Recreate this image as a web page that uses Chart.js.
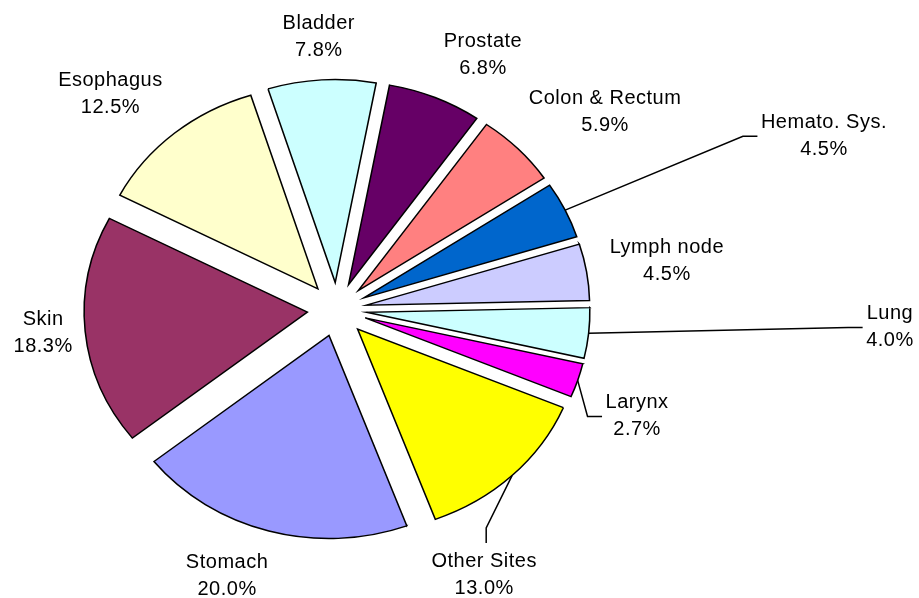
<!DOCTYPE html>
<html>
<head>
<meta charset="utf-8">
<script src="https://cdn.jsdelivr.net/npm/chart.js@4/dist/chart.umd.min.js"></script>
<style>
html, body { margin:0; padding:0; background:#fff; }
</style>
</head>
<body>
<canvas id="myChart" width="919" height="598"></canvas>
<script>
const sites = ['Bladder','Prostate','Colon & Rectum','Hemato. Sys.','Lymph node','Lung','Larynx','Other Sites','Stomach','Skin','Esophagus'];
const shares = [7.8,6.8,5.9,4.5,4.5,4.0,2.7,13.0,20.0,18.3,12.5];
const sliceColors = ['#CCFFFF','#660066','#FF8080','#0066CC','#CCCCFF','#CCFFFF','#FF00FF','#FFFF00','#9999FF','#993366','#FFFFCC'];

// where each label sits: [turn from slice mid angle (deg), gap past the rim (px)]
const labelPlace = [[0,44],[5.1,58],[5.5,85],[4.3,246],[0,74],[-4.25,273],[3.5,62.5],[18.6,67.6],[5.6,53],[0.9,38],[-3.9,69]];
// leader lines: 'left' = line comes in from the left, 'top' = from above
const leaders = {3:'left',5:'left',6:'left',7:'top'};

const explode = 27;
const pieRadius = 203;
const stretchX = 1.1;   // the original pie is a bit wider than tall

function centre(chart){
    const a = chart.chartArea;
    return [(a.left+a.right)/2, (a.top+a.bottom)/2];
}

// pull every slice out from the centre along its mid angle
const explodePlugin = {
    id:'explode',
    afterDatasetsUpdate(chart){
        const [cx, cy] = centre(chart);
        chart.getDatasetMeta(0).data.forEach(arc => {
            const mid = (arc.startAngle+arc.endAngle)/2;
            arc.x = cx + Math.cos(mid)*explode;
            arc.y = cy + Math.sin(mid)*explode;
        });
    },
    beforeDatasetDraw(chart){
        const cx = centre(chart)[0];
        chart.ctx.save();
        chart.ctx.translate(cx, 0);
        chart.ctx.scale(stretchX, 1);
        chart.ctx.translate(-cx, 0);
    },
    afterDatasetDraw(chart){
        chart.ctx.restore();
    }
};

const labelPlugin = {
    id:'sliceLabels',
    afterDatasetsDraw(chart){
        const ctx = chart.ctx;
        const cx = centre(chart)[0];
        const sx = x => cx + (x-cx)*stretchX;
        ctx.save();
        ctx.font = '20px "Liberation Sans", Arial, sans-serif';
        ctx.letterSpacing = '0.5px';
        ctx.fillStyle = '#000';
        ctx.strokeStyle = '#000';
        ctx.lineWidth = 1.5;
        ctx.textAlign = 'center';
        ctx.textBaseline = 'alphabetic';
        chart.getDatasetMeta(0).data.forEach((arc,i) => {
            const mid = (arc.startAngle+arc.endAngle)/2;
            const turn = labelPlace[i][0]*Math.PI/180;
            const r = arc.outerRadius + labelPlace[i][1];
            const lx = sx(arc.x + Math.cos(mid+turn)*r);
            const ly = arc.y + Math.sin(mid+turn)*r;
            const lines = [sites[i], shares[i].toFixed(1)+'%'];
            ctx.fillText(lines[0], lx, ly-6.5);
            ctx.fillText(lines[1], lx, ly+20.5);

            if (leaders[i]) {
                const w = Math.max(...lines.map(t => ctx.measureText(t).width));
                const px = sx(arc.x + Math.cos(mid)*arc.outerRadius);
                const py = arc.y + Math.sin(mid)*arc.outerRadius;
                let ex, ey, kx, ky;
                if (leaders[i] === 'left') {
                    ex = lx - w/2 - 3.5; ey = ly + 1.5;
                    kx = ex - 14.5; ky = ey;
                } else {
                    ex = lx + 2; ey = ly - 31;
                    kx = ex; ky = ey - 15;
                }
                ctx.beginPath();
                ctx.moveTo(px, py);
                ctx.lineTo(kx, ky);
                ctx.lineTo(ex, ey);
                ctx.stroke();
            }
        });
        ctx.restore();
    }
};

const myChart = document.getElementById('myChart').getContext('2d');

const SitesChart = new Chart(myChart,{
    type:'pie',
    data:{
        labels:sites,
        datasets:[{
            data:shares,
            backgroundColor:sliceColors,
            borderColor:'#000',
            borderWidth:1.4,
            borderJoinStyle:'miter'
        }]
    },
    options:{
        responsive:false,
        animation:false,
        events:[],
        devicePixelRatio:1,
        rotation:-17.5,
        radius:pieRadius,
        layout:{
            padding:{left:0, right:245, top:21, bottom:0}
        },
        plugins:{
            legend:{display:false},
            tooltip:{enabled:false}
        }
    },
    plugins:[explodePlugin, labelPlugin]
});
</script>
</body>
</html>
